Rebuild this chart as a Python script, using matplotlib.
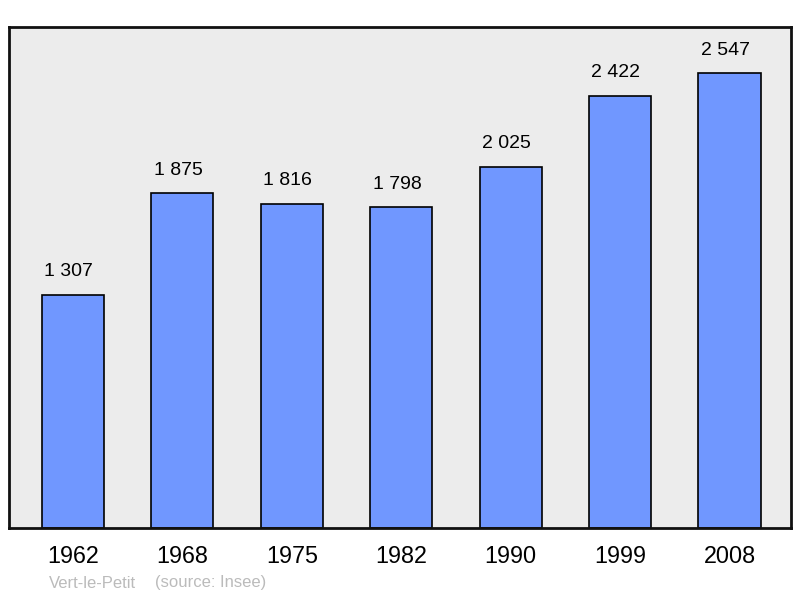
import matplotlib
matplotlib.use("Agg")
import matplotlib.pyplot as plt

plt.rcParams['font.family'] = ['Liberation Sans', 'DejaVu Sans']

years = ["1962", "1968", "1975", "1982", "1990", "1999", "2008"]
population = [1307, 1875, 1816, 1798, 2025, 2422, 2547]
value_labels = ["1 307", "1 875", "1 816", "1 798", "2 025", "2 422", "2 547"]
commune = "Vert-le-Petit"
source = "(source: Insee)"

fig = plt.figure(figsize=(8, 5.98), dpi=100)
ax = fig.add_axes([9/800, 70/598, 782/800, 501/598])
ax.set_facecolor('#ececec')

x = list(range(len(years)))
ax.bar(x, population, width=0.567, color='#7097ff', edgecolor='black', linewidth=1.2, zorder=2)
for xi, v, lab in zip(x, population, value_labels):
    ax.annotate(lab, (xi, v), xytext=(-3, 16.5), textcoords='offset points',
                ha='center', va='center', fontsize=14, color='black')

ax.set_xlim(-0.585, 6.562)
ax.set_ylim(0, 2807)
ax.set_xticks(x)
ax.set_xticklabels(years, fontsize=16.8)
ax.tick_params(axis='x', length=0, pad=12.5)
ax.set_yticks([])
for s in ax.spines.values():
    s.set_linewidth(2)
    s.set_color('#111111')

fig.text(49/800, 1 - 583/598, commune, fontsize=12, color='#bbbbbb', ha='left', va='center')
fig.text(155/800, 1 - 583/598, source, fontsize=12, color='#bbbbbb', ha='left', va='center')

fig.savefig('out.png', dpi=100)
